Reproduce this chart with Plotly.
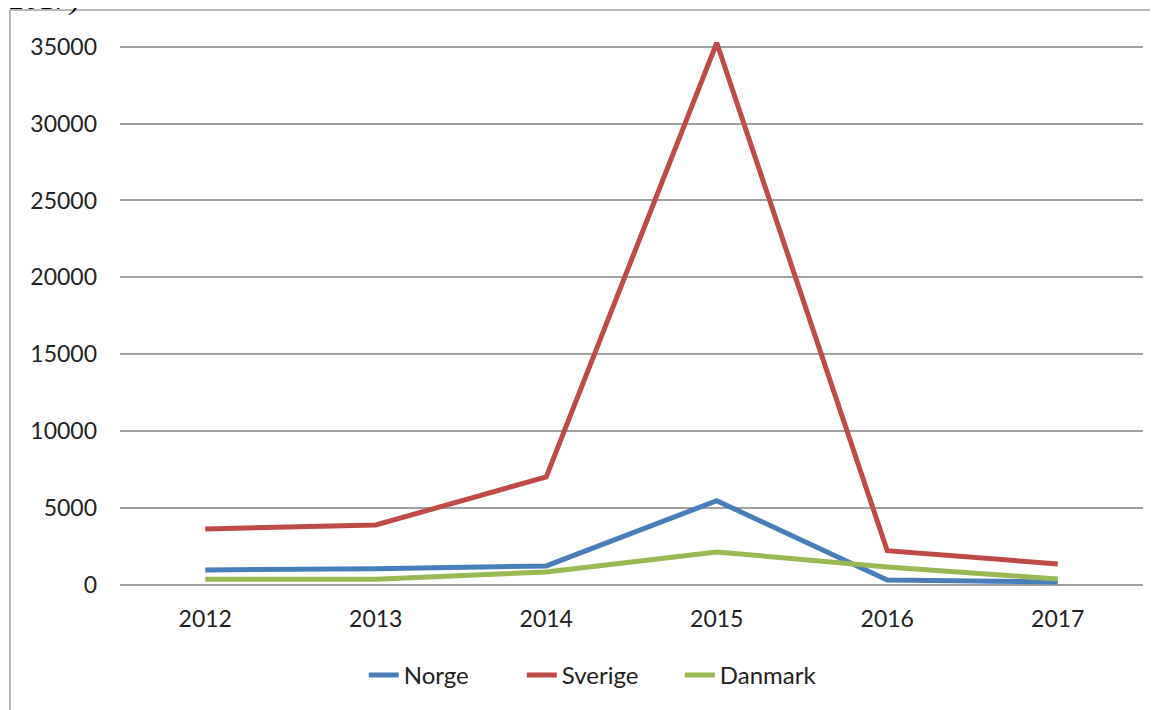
import plotly.graph_objects as go

years = ["2012", "2013", "2014", "2015", "2016", "2017"]
norge = [980, 1060, 1240, 5480, 330, 200]
sverige = [3640, 3900, 7030, 35250, 2230, 1370]
danmark = [370, 380, 850, 2150, 1170, 390]

series = [
    ("Norge", norge, "#4A7EBB"),
    ("Sverige", sverige, "#BE4B48"),
    ("Danmark", danmark, "#98B954"),
]

fig = go.Figure()
for name, values, color in series:
    fig.add_trace(go.Scatter(
        x=years, y=values, name=name, mode="lines",
        line=dict(color=color, width=5),
    ))

font = dict(family="Lato, Open Sans, sans-serif", size=23, color="#222222")

# plot area 1023 x 543 px; page body adds an 8px offset
fig.update_layout(
    width=1158, height=710,
    plot_bgcolor="white", paper_bgcolor="white",
    margin=dict(l=112, r=23, t=34, b=133, autoexpand=False),
    font=font,
    showlegend=True,
    legend=dict(
        orientation="h", x=0.47, xanchor="center", y=-0.125, yanchor="top",
        font=dict(family="Lato, Open Sans, sans-serif", size=24, color="#222222"),
        tracegroupgap=0, entrywidth=113,
    ),
    xaxis=dict(
        type="category", range=[-0.5, 5.5], showgrid=False, showline=False, ticks="",
        ticklabelstandoff=18, tickfont=font, automargin=False,
    ),
    yaxis=dict(
        range=[0, 35300], tickvals=[0, 5000, 10000, 15000, 20000, 25000, 30000, 35000],
        ticktext=["0", "5000", "10000", "15000", "20000", "25000", "30000", "35000"],
        showgrid=True, gridcolor="#A0A0A0", gridwidth=1.5,
        zeroline=True, zerolinecolor="#A0A0A0", zerolinewidth=1.5,
        showline=False, ticks="", ticklabelstandoff=22, tickfont=font, automargin=False,
    ),
    shapes=[
        dict(type="line", xref="paper", yref="paper",
             x0=(10 - 120) / 1023, x1=1.05, y0=1 + 32 / 543, y1=1 + 32 / 543,
             line=dict(color="#A0A0A0", width=1.5)),
        dict(type="line", xref="paper", yref="paper",
             x0=(10 - 120) / 1023, x1=(10 - 120) / 1023, y0=1 + 32 / 543, y1=-0.3,
             line=dict(color="#A0A0A0", width=1.5)),
    ],
    annotations=[
        # heading text cut off at the top edge, as in the source image
        dict(text="2017)", xref="paper", yref="paper",
             x=(8 - 120) / 1023, y=1 + 24.5 / 543, xanchor="left", yanchor="bottom",
             showarrow=False,
             font=dict(family="Liberation Serif, serif", size=30, color="#000000",
                       style="italic")),
    ],
)

fig.write_html("out.html")
